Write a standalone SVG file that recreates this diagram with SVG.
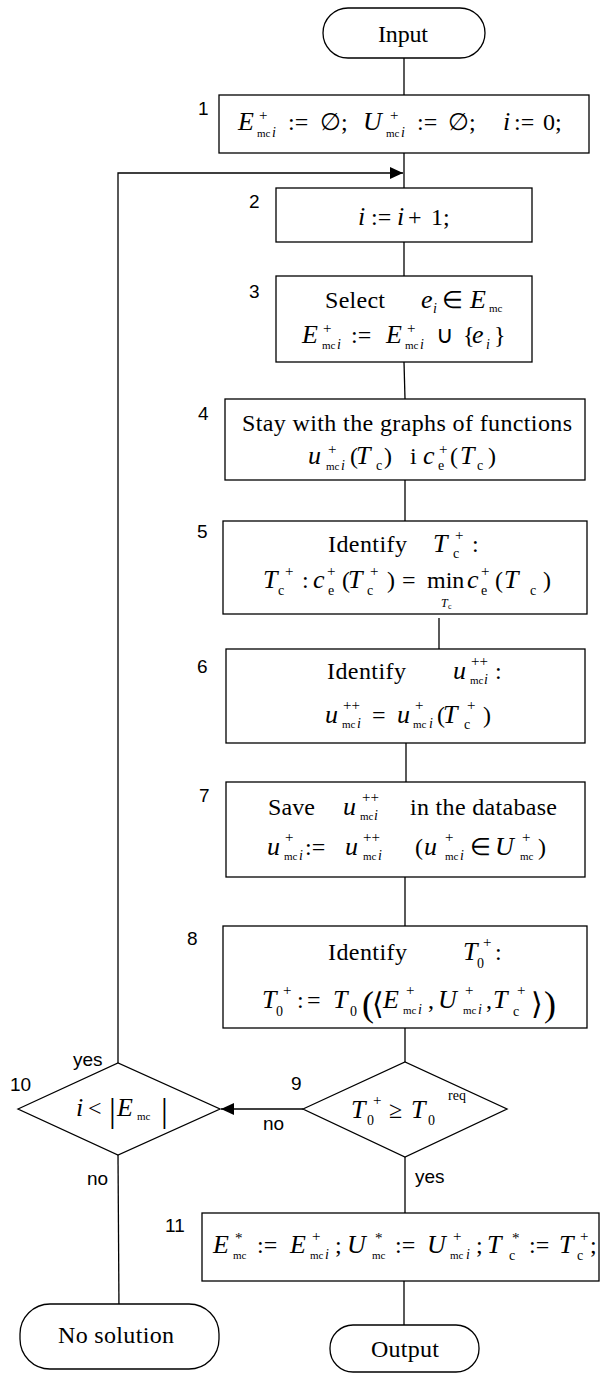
<svg xmlns="http://www.w3.org/2000/svg" width="605" height="1374" viewBox="0 0 605 1374">
<style>
.n{fill:#fff;stroke:#000;stroke-width:1.3}
.c{fill:none;stroke:#000;stroke-width:1.3}
.t{font-family:"Liberation Serif","Times New Roman",serif;font-size:24px;fill:#000}
.m{font-style:italic;font-size:26px}
.sp{font-size:15px;font-style:normal}
.sb{font-size:11px;font-style:normal}
.sc{font-size:14px;font-style:normal}
.si{font-size:14px;font-style:italic}
.l{font-family:"Liberation Sans",Arial,sans-serif;font-size:19px;fill:#000}
</style>
<defs>
<marker id="ah" markerWidth="13" markerHeight="12" refX="13" refY="6" orient="auto" markerUnits="userSpaceOnUse"><path d="M0,0 L13,6 L0,12 z" fill="#000"/></marker>
</defs>
<g id="connectors">
<path class="c" d="M404,58 V95"/>
<path class="c" d="M404,153 V188"/>
<path class="c" d="M118,1063 V173 H403" marker-end="url(#ah)"/>
<path class="c" d="M404,242 V276"/>
<path class="c" d="M404,362 L405,399"/>
<path class="c" d="M405,480 V521"/>
<path class="c" d="M439,618 V658"/>
<path class="c" d="M406,743 V782"/>
<path class="c" d="M405,877 V926"/>
<path class="c" d="M405,1028 V1062"/>
<path class="c" d="M303,1109 H221" marker-end="url(#ah)"/>
<path class="c" d="M405,1157 V1213"/>
<path class="c" d="M118,1155 L119,1311"/>
<path class="c" d="M404,1281 V1325"/>
<text class="l" x="73" y="1066">yes</text>
<text class="l" x="263" y="1130">no</text>
<text class="l" x="87" y="1185">no</text>
<text class="l" x="415" y="1183">yes</text>
</g>
<g id="input">
<rect class="n" x="323" y="8" width="162" height="50" rx="25"/>
<text class="t" x="378" y="42" textLength="50">Input</text>
</g>
<g id="step1">
<rect class="n" x="219" y="95" width="370" height="58"/>
<text class="l" x="198" y="115">1</text>
<text class="t"><tspan class="m" x="238" y="130">E</tspan><tspan class="sp" x="259" y="120">+</tspan><tspan class="sb" x="257" y="137">mc</tspan><tspan class="si" x="272" y="137">i</tspan><tspan x="288" y="130">:=</tspan><tspan x="320" y="130">∅;</tspan><tspan class="m" x="363" y="130">U</tspan><tspan class="sp" x="390" y="120">+</tspan><tspan class="sb" x="386" y="137">mc</tspan><tspan class="si" x="401" y="137">i</tspan><tspan x="417" y="130">:=</tspan><tspan x="448" y="130">∅;</tspan><tspan class="m" x="503" y="130">i</tspan><tspan x="514" y="130">:=</tspan><tspan x="543" y="130">0;</tspan></text>
</g>
<g id="step2">
<rect class="n" x="276" y="188" width="256" height="54"/>
<text class="l" x="249" y="208">2</text>
<text class="t"><tspan class="m" x="358" y="225">i</tspan><tspan x="371" y="225">:=</tspan><tspan class="m" x="397" y="225">i</tspan><tspan x="408" y="225">+</tspan><tspan x="431" y="225">1;</tspan></text>
</g>
<g id="step3">
<rect class="n" x="276" y="276" width="256" height="86"/>
<text class="l" x="249" y="298">3</text>
<text class="t"><tspan x="325" y="308" textLength="60">Select</tspan><tspan class="m" x="421" y="308">e</tspan><tspan class="si" x="433" y="313">i</tspan><tspan x="442" y="308">∈</tspan><tspan class="m" x="470" y="308">E</tspan><tspan class="sb" x="489" y="312">mc</tspan></text>
<text class="t"><tspan class="m" x="302" y="343">E</tspan><tspan class="sp" x="323" y="333">+</tspan><tspan class="sb" x="322" y="349">mc</tspan><tspan class="si" x="337" y="349">i</tspan><tspan x="351" y="343">:=</tspan><tspan class="m" x="386" y="343">E</tspan><tspan class="sp" x="407" y="333">+</tspan><tspan class="sb" x="405" y="349">mc</tspan><tspan class="si" x="420" y="349">i</tspan><tspan x="436" y="343">∪</tspan><tspan x="463" y="343">{</tspan><tspan class="m" x="472" y="343">e</tspan><tspan class="si" x="486" y="349">i</tspan><tspan x="494" y="343">}</tspan></text>
</g>
<g id="step4">
<rect class="n" x="225" y="399" width="360" height="81"/>
<text class="l" x="198" y="420">4</text>
<text class="t" x="242" y="431" textLength="330">Stay with the graphs of functions</text>
<text class="t"><tspan class="m" x="308" y="464">u</tspan><tspan class="sp" x="328" y="454">+</tspan><tspan class="sb" x="326" y="470">mc</tspan><tspan class="si" x="341" y="470">i</tspan><tspan x="350" y="464">(</tspan><tspan class="m" x="356" y="464">T</tspan><tspan class="sc" x="376" y="470">c</tspan><tspan x="384" y="464">)</tspan><tspan x="410" y="464">i</tspan><tspan class="m" x="423" y="464">c</tspan><tspan class="sp" x="439" y="454">+</tspan><tspan class="sc" x="438" y="470">e</tspan><tspan x="450" y="464">(</tspan><tspan class="m" x="460" y="464">T</tspan><tspan class="sc" x="477" y="470">c</tspan><tspan x="488" y="464">)</tspan></text>
</g>
<g id="step5">
<rect class="n" x="223" y="521" width="364" height="93"/>
<text class="l" x="197" y="538">5</text>
<text class="t"><tspan x="328" y="552" textLength="79">Identify</tspan><tspan class="m" x="433" y="552">T</tspan><tspan class="sp" x="455" y="540">+</tspan><tspan class="sc" x="453" y="558">c</tspan><tspan x="472" y="552">:</tspan></text>
<text class="t"><tspan class="m" x="263" y="588">T</tspan><tspan class="sp" x="285" y="576">+</tspan><tspan class="sc" x="278" y="595">c</tspan><tspan x="302" y="588">:</tspan><tspan class="m" x="313" y="588">c</tspan><tspan class="sp" x="327" y="576">+</tspan><tspan class="sc" x="328" y="595">e</tspan><tspan x="342" y="588">(</tspan><tspan class="m" x="348" y="588">T</tspan><tspan class="sp" x="370" y="576">+</tspan><tspan class="sc" x="367" y="595">c</tspan><tspan x="387" y="588">)</tspan><tspan x="402" y="588">=</tspan><tspan x="427" y="588">min</tspan><tspan class="m" style="font-size:12px" x="441" y="607">T</tspan><tspan style="font-size:8px" x="448" y="609">c</tspan><tspan class="m" x="467" y="588">c</tspan><tspan class="sp" x="481" y="576">+</tspan><tspan class="sc" x="481" y="595">e</tspan><tspan x="495" y="588">(</tspan><tspan class="m" x="504" y="588">T</tspan><tspan class="sc" x="530" y="595">c</tspan><tspan x="543" y="588">)</tspan></text>
</g>
<g id="step6">
<rect class="n" x="226" y="649" width="359" height="94"/>
<text class="l" x="197" y="673">6</text>
<text class="t"><tspan x="327" y="679" textLength="79">Identify</tspan><tspan class="m" x="453" y="679">u</tspan><tspan class="sp" x="471" y="666">++</tspan><tspan class="sb" x="470" y="684">mc</tspan><tspan class="si" x="484" y="684">i</tspan><tspan x="495" y="679">:</tspan></text>
<text class="t"><tspan class="m" x="325" y="723">u</tspan><tspan class="sp" x="343" y="710">++</tspan><tspan class="sb" x="342" y="728">mc</tspan><tspan class="si" x="357" y="728">i</tspan><tspan x="372" y="723">=</tspan><tspan class="m" x="397" y="723">u</tspan><tspan class="sp" x="415" y="710">+</tspan><tspan class="sb" x="413" y="728">mc</tspan><tspan class="si" x="429" y="728">i</tspan><tspan x="437" y="723">(</tspan><tspan class="m" x="443" y="723">T</tspan><tspan class="sp" x="467" y="710">+</tspan><tspan class="sc" x="464" y="729">c</tspan><tspan x="483" y="723">)</tspan></text>
</g>
<g id="step7">
<rect class="n" x="226" y="782" width="359" height="95"/>
<text class="l" x="199" y="802">7</text>
<text class="t"><tspan x="268" y="815" textLength="47">Save</tspan><tspan class="m" x="343" y="815">u</tspan><tspan class="sp" x="362" y="802">++</tspan><tspan class="sb" x="360" y="820">mc</tspan><tspan class="si" x="374" y="820">i</tspan><tspan x="410" y="815" textLength="147">in the database</tspan></text>
<text class="t"><tspan class="m" x="267" y="855">u</tspan><tspan class="sp" x="285" y="842">+</tspan><tspan class="sb" x="284" y="860">mc</tspan><tspan class="si" x="299" y="860">i</tspan><tspan x="305" y="855">:=</tspan><tspan class="m" x="345" y="855">u</tspan><tspan class="sp" x="363" y="842">++</tspan><tspan class="sb" x="363" y="860">mc</tspan><tspan class="si" x="378" y="860">i</tspan><tspan x="415" y="855">(</tspan><tspan class="m" x="424" y="855">u</tspan><tspan class="sp" x="445" y="842">+</tspan><tspan class="sb" x="445" y="860">mc</tspan><tspan class="si" x="460" y="860">i</tspan><tspan x="470" y="855">∈</tspan><tspan class="m" x="495" y="855">U</tspan><tspan class="sp" x="522" y="842">+</tspan><tspan class="sb" x="520" y="860">mc</tspan><tspan x="538" y="855">)</tspan></text>
</g>
<g id="step8">
<rect class="n" x="223" y="926" width="364" height="102"/>
<text class="l" x="187" y="945">8</text>
<text class="t"><tspan x="328" y="960" textLength="79">Identify</tspan><tspan class="m" x="463" y="960">T</tspan><tspan class="sp" x="483" y="947">+</tspan><tspan class="sc" x="477" y="968">0</tspan><tspan x="495" y="960">:</tspan></text>
<text class="t"><tspan class="m" x="262" y="1008">T</tspan><tspan class="sp" x="283" y="995">+</tspan><tspan class="sc" x="276" y="1016">0</tspan><tspan x="297" y="1008">:</tspan><tspan x="307" y="1008">=</tspan><tspan class="m" x="333" y="1008">T</tspan><tspan class="sc" x="350" y="1016">0</tspan><tspan style="font-size:36px" x="362" y="1016">(</tspan><tspan style="font-size:30px" x="372" y="1014">⟨</tspan><tspan class="m" x="383" y="1008">E</tspan><tspan class="sp" x="406" y="995">+</tspan><tspan class="sb" x="403" y="1014">mc</tspan><tspan class="si" x="418" y="1014">i</tspan><tspan x="428" y="1008">,</tspan><tspan class="m" x="438" y="1008">U</tspan><tspan class="sp" x="465" y="995">+</tspan><tspan class="sb" x="463" y="1014">mc</tspan><tspan class="si" x="478" y="1014">i</tspan><tspan x="486" y="1008">,</tspan><tspan class="m" x="493" y="1008">T</tspan><tspan class="sp" x="517" y="995">+</tspan><tspan class="sc" x="513" y="1016">c</tspan><tspan style="font-size:30px" x="531" y="1014">⟩</tspan><tspan style="font-size:36px" x="544" y="1016">)</tspan></text>
</g>
<g id="decision9">
<polygon class="n" points="303,1109 405,1062 507,1109 405,1157"/>
<text class="l" x="291" y="1090">9</text>
<text class="t"><tspan class="m" x="351" y="1118">T</tspan><tspan class="sp" x="373" y="1105">+</tspan><tspan class="sc" x="367" y="1125">0</tspan><tspan x="389" y="1118">≥</tspan><tspan class="m" x="411" y="1118">T</tspan><tspan class="sc" x="428" y="1125">0</tspan><tspan class="sc" x="448" y="1100">req</tspan></text>
</g>
<g id="decision10">
<polygon class="n" points="18,1109 118,1063 220,1109 118,1155"/>
<text class="l" x="10" y="1091">10</text>
<text class="t"><tspan class="m" x="76" y="1116">i</tspan><tspan x="88" y="1116">&lt;</tspan><tspan style="font-size:34px" x="109" y="1122">|</tspan><tspan class="m" x="117" y="1116">E</tspan><tspan class="sb" x="137" y="1120">mc</tspan><tspan style="font-size:34px" x="161" y="1122">|</tspan></text>
</g>
<g id="step11">
<rect class="n" x="202" y="1213" width="397" height="68"/>
<text class="l" x="165" y="1232">11</text>
<text class="t"><tspan class="m" x="213" y="1253">E</tspan><tspan class="sp" x="235" y="1243">*</tspan><tspan class="sb" x="233" y="1259">mc</tspan><tspan x="257" y="1253">:=</tspan><tspan class="m" x="290" y="1253">E</tspan><tspan class="sp" x="312" y="1241">+</tspan><tspan class="sb" x="310" y="1259">mc</tspan><tspan class="si" x="325" y="1259">i</tspan><tspan x="335" y="1253">;</tspan><tspan class="m" x="347" y="1253">U</tspan><tspan class="sp" x="375" y="1243">*</tspan><tspan class="sb" x="372" y="1259">mc</tspan><tspan x="395" y="1253">:=</tspan><tspan class="m" x="427" y="1253">U</tspan><tspan class="sp" x="453" y="1241">+</tspan><tspan class="sb" x="450" y="1259">mc</tspan><tspan class="si" x="466" y="1259">i</tspan><tspan x="476" y="1253">;</tspan><tspan class="m" x="487" y="1253">T</tspan><tspan class="sp" x="512" y="1243">*</tspan><tspan class="sc" x="509" y="1260">c</tspan><tspan x="529" y="1253">:=</tspan><tspan class="m" x="559" y="1253">T</tspan><tspan class="sp" x="580" y="1241">+</tspan><tspan class="sc" x="577" y="1260">c</tspan><tspan x="590" y="1253">;</tspan></text>
</g>
<g id="no-solution">
<rect class="n" x="20" y="1304" width="199" height="65" rx="30"/>
<text class="t" x="58" y="1343" textLength="116">No solution</text>
</g>
<g id="output">
<rect class="n" x="330" y="1325" width="149" height="47" rx="23"/>
<text class="t" x="371" y="1357" textLength="68">Output</text>
</g>
</svg>
